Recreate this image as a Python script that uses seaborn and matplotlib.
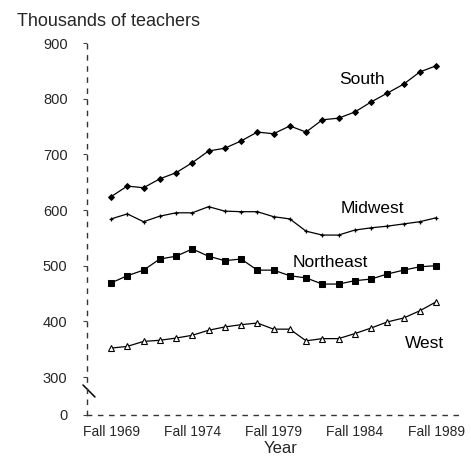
import numpy as np
import pandas as pd
import matplotlib
matplotlib.use("Agg")
import matplotlib.pyplot as plt
import seaborn as sns

# values (thousands of teachers, fall of each year)
years = list(range(1969, 1990))
south = [624, 643, 640, 656, 667, 685, 706, 711, 724, 740, 737,
         751, 740, 762, 765, 776, 794, 810, 826, 848, 859]
midwest = [584, 593, 579, 589, 595, 595, 606, 598, 597, 597, 588,
           584, 562, 555, 555, 564, 568, 571, 575, 579, 586]
northeast = [469, 482, 492, 512, 517, 530, 517, 509, 512, 492, 492,
             482, 478, 467, 467, 473, 476, 485, 492, 498, 500]
west = [352, 355, 364, 366, 370, 375, 384, 390, 394, 397, 386,
        386, 365, 369, 369, 378, 388, 399, 406, 419, 435]
regions = ["South", "Midwest", "Northeast", "West"]
tick_years = [1969, 1974, 1979, 1984, 1989]
tick_labels = ["Fall 1969", "Fall 1974", "Fall 1979", "Fall 1984", "Fall 1989"]
y_ticks = [0, 300, 400, 500, 600, 700, 800, 900]

df = pd.DataFrame({
    "year": years * 4,
    "teachers": south + midwest + northeast + west,
    "region": [r for r in regions for _ in years],
})

sns.set_theme(style="white")
plt.rcParams["font.family"] = ["Liberation Sans", "DejaVu Sans"]

fig = plt.figure(figsize=(4.71, 4.57), dpi=100)
ax = fig.add_axes([87 / 471, 1 - 415 / 457, 371 / 471, 372 / 457])

# broken axis: everything below 300 squeezed into a short stub
k = 68.2 / 300


def fwd(v):
    v = np.asarray(v, dtype=float)
    return np.where(v >= 300, v, 300 - (300 - v) * k)


def inv(u):
    u = np.asarray(u, dtype=float)
    return np.where(u >= 300, u, 300 - (300 - u) / k)


ax.set_yscale("function", functions=(fwd, inv))

styles = {
    "South": dict(marker="D", markersize=3, markerfacecolor="black"),
    "Midwest": dict(marker="+", markersize=3.5, markeredgewidth=0.9),
    "Northeast": dict(marker="s", markersize=4, markerfacecolor="black"),
    "West": dict(marker="^", markersize=4, markerfacecolor="white",
                 markeredgewidth=0.8),
}
for r in regions:
    sns.lineplot(data=df[df.region == r], x="year", y="teachers", ax=ax,
                 color="black", linewidth=0.9, markeredgecolor="black",
                 legend=False, **styles[r])

label_pos = {
    "South": (1984.45, 834),
    "Midwest": (1985.1, 602),
    "Northeast": (1982.5, 505),
    "West": (1988.3, 361),
}
for r, (x, y) in label_pos.items():
    ax.text(x, y, r, ha="center", va="center", fontsize=12.5, color="black")

ax.set_xlim(1967.52, 1990.35)
ax.set_ylim(0, 900)
ax.set_xticks(tick_years)
ax.set_xticklabels(tick_labels, fontsize=10)
ax.set_yticks(y_ticks)
ax.set_yticklabels([str(t) for t in y_ticks], fontsize=10.5)
ax.tick_params(axis="y", left=True, length=3, width=0.8, color="#444444", pad=11)
ax.tick_params(axis="x", bottom=False, length=0, pad=7)
ax.set_xlabel("Year", fontsize=12)
ax.xaxis.set_label_coords((280.5 - 87) / 371, (415 - 441) / 372)
ax.set_ylabel("")

for side in ["top", "right"]:
    ax.spines[side].set_visible(False)
for side in ["left", "bottom"]:
    ax.spines[side].set_linestyle((0, (3, 5)))
    ax.spines[side].set_color("#333333")
    ax.spines[side].set_linewidth(1)

# break mark on the y axis
ax.plot([-4 / 371, 8 / 371], [30 / 372, 18 / 372], transform=ax.transAxes,
        color="black", linewidth=1.1, clip_on=False)

fig.text(17 / 471, 1 - 21 / 457, "Thousands of teachers", ha="left",
         va="center", fontsize=13)

fig.savefig("out.png", dpi=100)
